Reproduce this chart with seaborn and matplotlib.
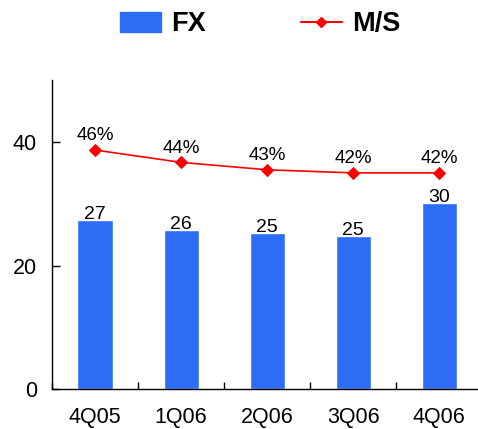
import numpy as np
import matplotlib.pyplot as plt
import seaborn as sns
from matplotlib.patches import Patch
from matplotlib.lines import Line2D

# data
quarters = ['4Q05', '1Q06', '2Q06', '3Q06', '4Q06']
fx = [27.4, 25.7, 25.2, 24.8, 30.1]
ms = [45.7, 43.7, 42.5, 42.0, 42.0]
ms_labels = ['46%', '44%', '43%', '42%', '42%']

sns.set_style('white')
plt.rcParams['font.family'] = ['Liberation Sans', 'DejaVu Sans']
plt.rcParams['text.color'] = 'black'
plt.rcParams['xtick.color'] = 'black'
plt.rcParams['ytick.color'] = 'black'

bar_color = '#2D6DF6'

fig = plt.figure(figsize=(4.78, 4.29), dpi=100)
ax = fig.add_axes([0.109, 0.093, 0.9, 0.72])

sns.barplot(x=quarters, y=fx, ax=ax, color=bar_color, width=0.41,
            saturation=1)
ax.bar_label(ax.containers[0], fmt='%.0f', padding=-2, fontsize=14,
             color='black')

ax.set_xlim(-0.5, 4.5)
ax.set_ylim(0, 50)
ax.set_yticks([0, 20, 40])
ax.set_xticks(np.arange(-0.5, 5, 1), minor=True)
ax.tick_params(axis='x', which='major', length=0, labelsize=15.5, pad=13)
ax.tick_params(axis='x', which='minor', direction='in', length=5,
               width=1, bottom=True)
ax.tick_params(axis='y', direction='in', length=6, width=1, left=True,
               labelsize=15.5, pad=11)
for s in ['top', 'right']:
    ax.spines[s].set_visible(False)
for s in ['left', 'bottom']:
    ax.spines[s].set_color('black')
    ax.spines[s].set_linewidth(1)

# secondary (hidden) axis for M/S
ax2 = ax.twinx()
sns.lineplot(x=np.arange(5), y=ms, ax=ax2, color='red', marker='D',
             markersize=6, markeredgecolor='red', linewidth=1.2)
ax2.set_ylim(7, 57)
ax2.axis('off')
for i, lab in enumerate(ms_labels):
    ax2.annotate(lab, (i, ms[i]), xytext=(0, 4), textcoords='offset points',
                 ha='center', va='bottom', fontsize=13.5, color='black')

handles = [Patch(color=bar_color, label='FX'),
           Line2D([], [], color='red', marker='D', markersize=5, label='M/S')]
fig.legend(handles=handles, loc='center', bbox_to_anchor=(0.545, 0.943),
           ncol=2, frameon=False, handlelength=1.5, handleheight=0.75,
           columnspacing=3.5, handletextpad=0.4,
           prop={'weight': 'bold', 'size': 19.5})

fig.savefig('out.png', dpi=100)
